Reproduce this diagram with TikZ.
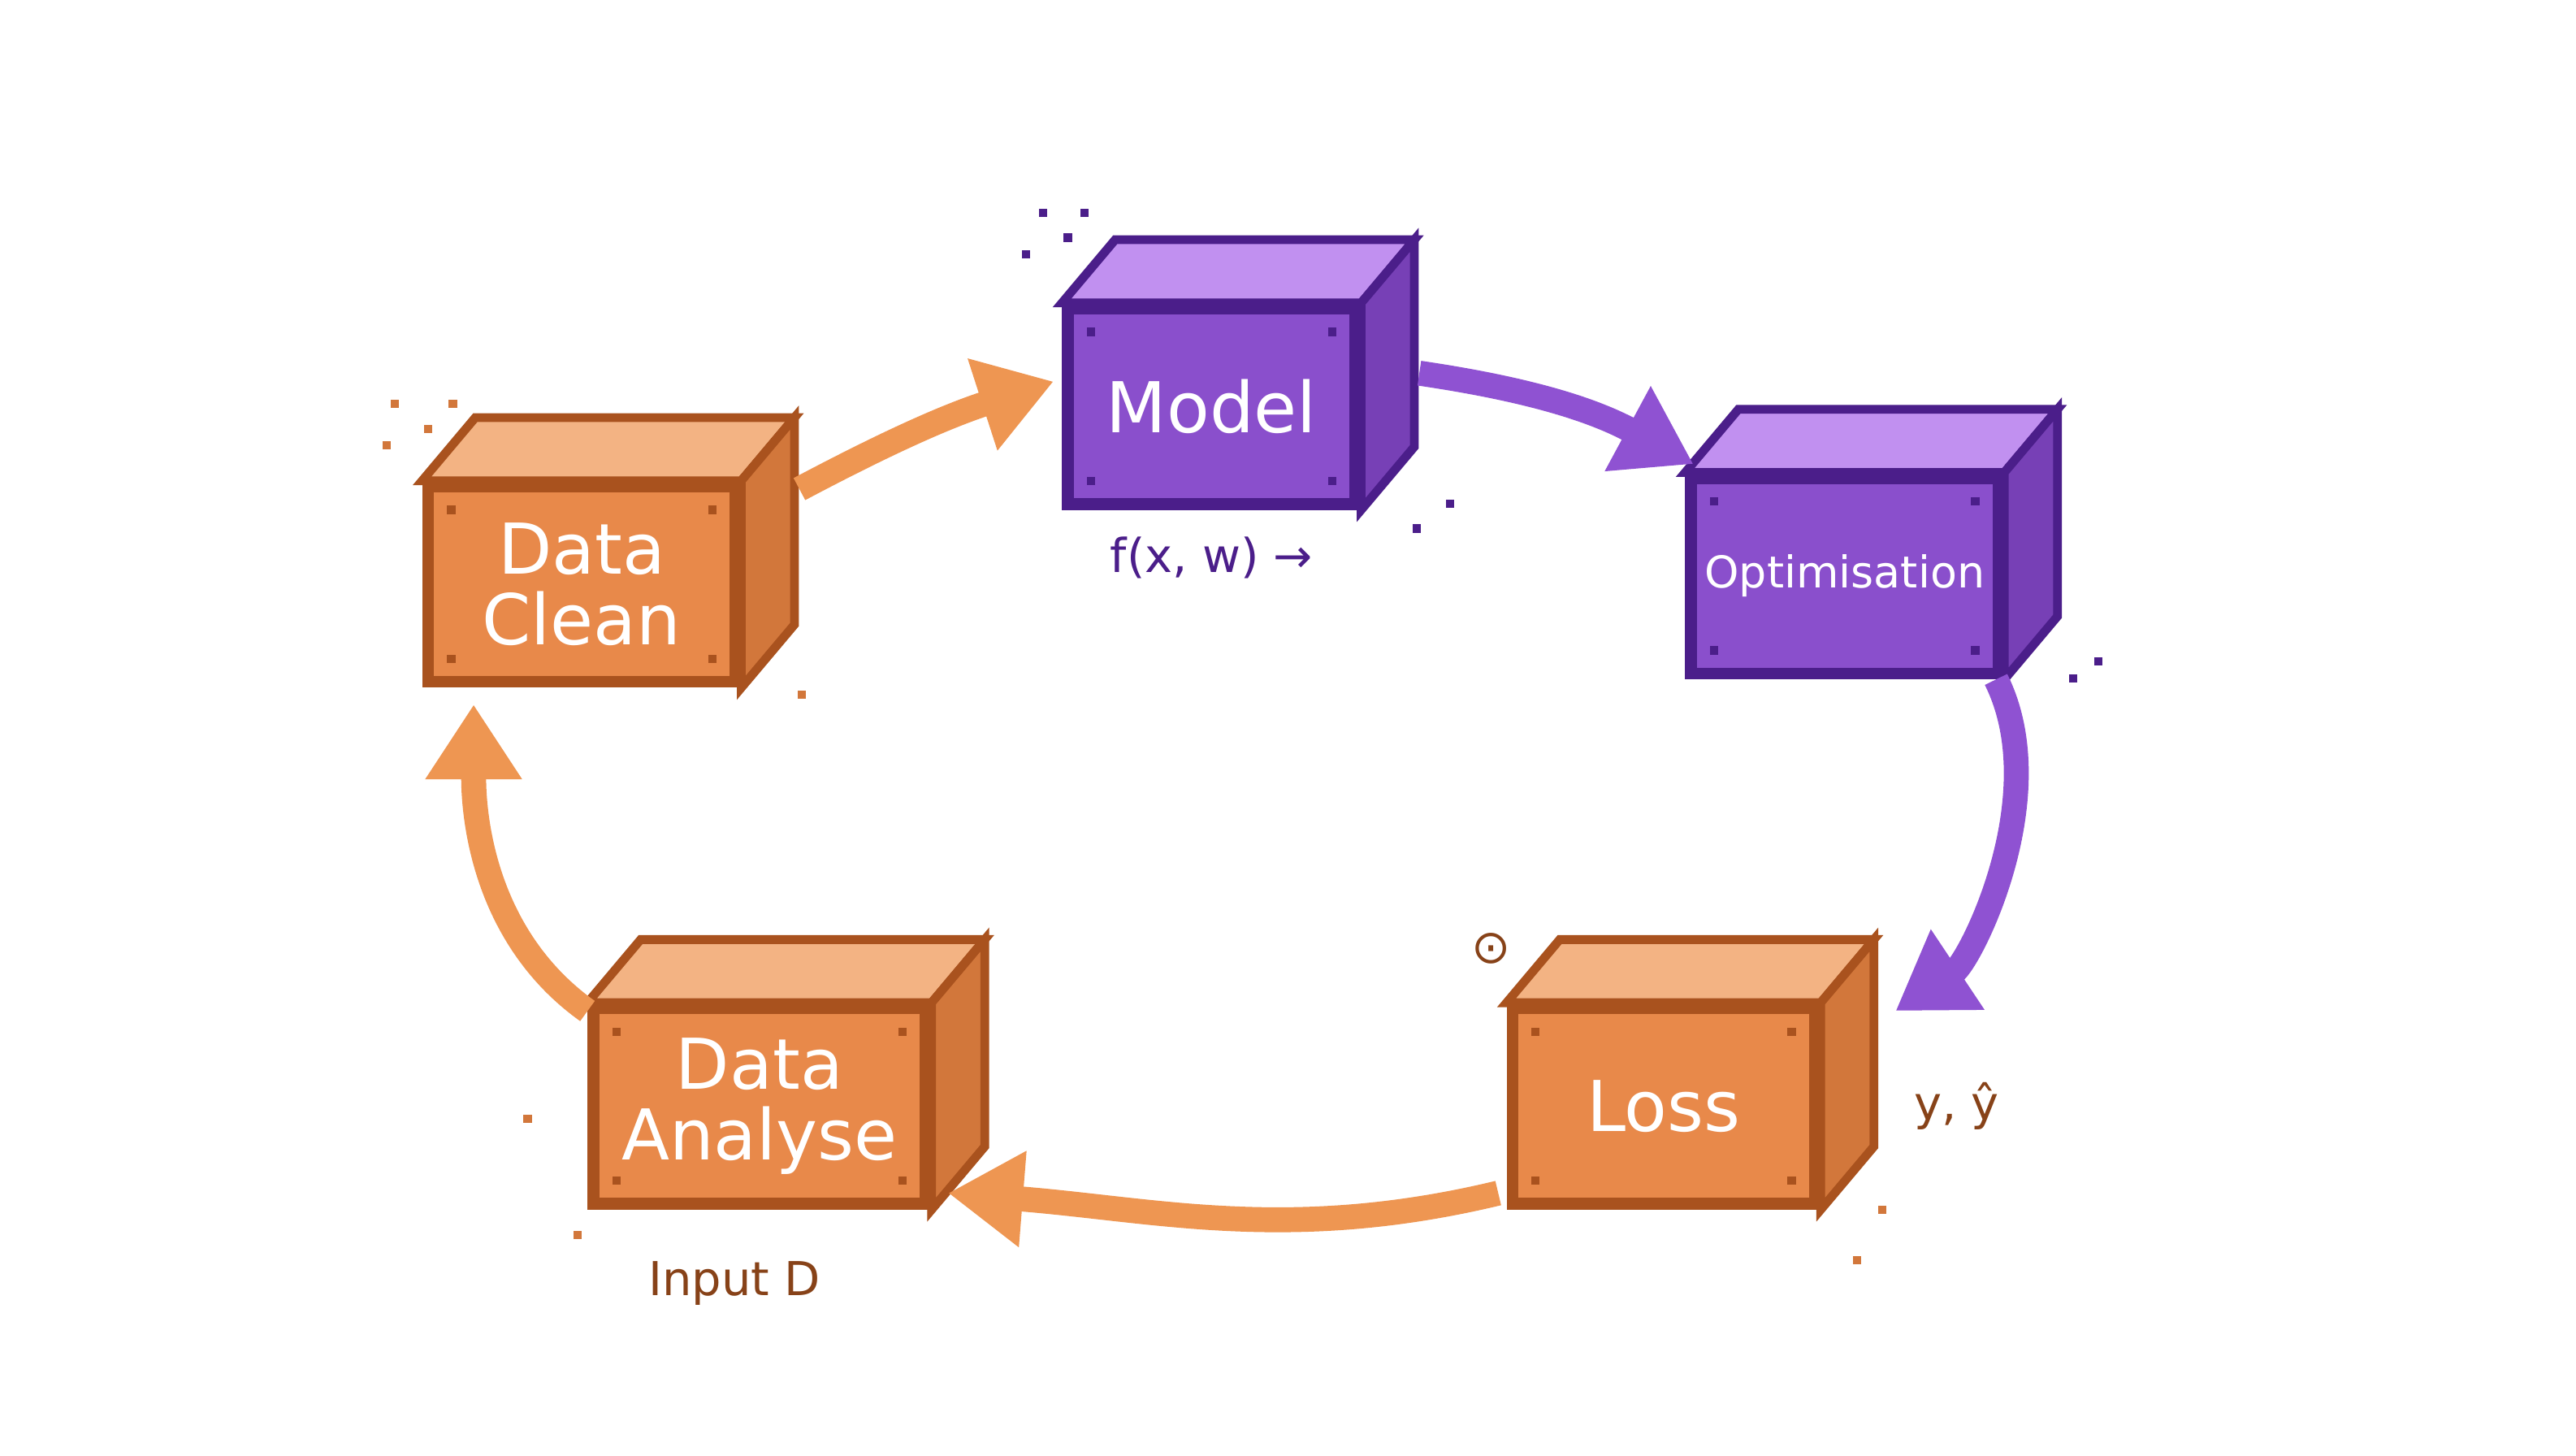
\documentclass[tikz,border=0pt]{standalone}
\usepackage{fontspec}
\setmainfont{DejaVu Sans}
\usetikzlibrary{arrows.meta,positioning,calc}
\definecolor{orfront}{HTML}{E8894A}
\definecolor{ortop}{HTML}{F3B383}
\definecolor{orside}{HTML}{D2773B}
\definecolor{oredge}{HTML}{A9521E}
\definecolor{pufront}{HTML}{8A4FCC}
\definecolor{putop}{HTML}{C190F0}
\definecolor{puside}{HTML}{7740B6}
\definecolor{puedge}{HTML}{4B1E8A}
\definecolor{orarrow}{HTML}{EE9652}
\definecolor{puarrow}{HTML}{8F52D2}

% box front face as node, top and side drawn from its anchors
\newcommand{\pixbox}[2]{%
  \fill[#2top,draw=#2edge,line width=3pt] (#1.north west) -- ++(0.64,0.76) -- ($(#1.north east)+(0.64,0.76)$) -- (#1.north east) -- cycle;
  \fill[#2side,draw=#2edge,line width=3pt] (#1.north east) -- ++(0.64,0.76) -- ($(#1.south east)+(0.64,0.76)$) -- (#1.south east) -- cycle;
  \foreach \c/\dx/\dy in {north west/0.3/-0.4,north east/-0.4/-0.4,south west/0.3/0.3,south east/-0.4/0.3}
    \fill[#2edge] ($(#1.\c)+(\dx,\dy)$) rectangle ++(0.1,0.1);
}

\begin{document}
\begin{tikzpicture}[
  >=Latex,
  box/.style={minimum width=#1,minimum height=2.35cm,line width=4pt,inner sep=0pt,align=center,text=white,font=\fontsize{24}{26}\selectfont},
  orbox/.style={box=#1,fill=orfront,draw=oredge},
  pubox/.style={box=#1,fill=pufront,draw=puedge},
  orflow/.style={-{Triangle[length=0.9cm,width=1.1cm]},line width=0.3cm,orarrow},
  puflow/.style={-{Triangle[length=0.9cm,width=1.1cm]},line width=0.3cm,puarrow},
  lbl/.style={font=\fontsize{16}{18}\selectfont}
]
\fill[white] (0,0) rectangle (31,17.51);

\node[orbox=3.7cm] (clean) at (7.0,10.48) {Data\\[-2pt]Clean};
\node[pubox=3.46cm] (model) at (14.58,12.62) {Model};
\node[pubox=3.7cm,font=\fontsize{15}{17}\selectfont] (opt) at (22.2,10.58) {Optimisation};
\node[orbox=3.64cm] (loss) at (20.02,4.2) {Loss};
\node[orbox=4.0cm] (analyse) at (9.14,4.2) {Data\\[-2pt]Analyse};
\pixbox{clean}{or}
\pixbox{model}{pu}
\pixbox{opt}{pu}
\pixbox{loss}{or}
\pixbox{analyse}{or}

\draw[orflow] ($(clean.north east)+(0.7,-0.1)$) to[bend left=5] ($(model.west)+(-0.1,0.3)$);
\draw[puflow] ($(model.east)+(0.7,0.4)$) to[bend left=10] ($(opt.north west)+(0.1,0.1)$);
\draw[puflow] ($(opt.south east)+(-0.1,0)$) .. controls +(0.7,-1.4) and +(0.9,0.6) .. ($(loss.north east)+(0.9,-0.1)$);
\draw[orflow] ($(loss.south west)+(-0.1,0.2)$) .. controls +(-2.5,-0.6) and +(2.5,-0.2) .. ($(analyse.south east)+(0.2,0.2)$);
\draw[orflow] ($(analyse.north west)+(0,-0.1)$) .. controls +(-1.4,1.0) and +(0,-1.0) .. ($(clean.south)+(-1.3,-0.2)$);

\node[lbl,text=puedge,below=0.2cm of model] (fxw) {f(x, w) →};
\node[lbl,text=oredge!80!black,right=1.0cm of loss] (yy) {y, ŷ};
\node[lbl,text=oredge!80!black,below=0.5cm of analyse,xshift=-0.3cm] (inp) {Input D};
\node[text=oredge!80!black,font=\fontsize{16}{18}\selectfont] (dot) at (17.94,6.1) {⊙};

% stray pixels
\foreach \x/\y/\c in {12.5/14.9/puedge,13.0/14.9/puedge,12.3/14.4/puedge,12.8/14.6/puedge,
  17.0/11.1/puedge,17.4/11.4/puedge,24.9/9.3/puedge,25.2/9.5/puedge,
  4.7/12.6/orside,5.1/12.3/orside,4.6/12.1/orside,5.4/12.6/orside,9.6/9.1/orside,
  6.3/4.0/orside,6.9/2.6/orside,22.6/2.9/orside,22.3/2.3/orside}
  \fill[\c] (\x,\y) rectangle ++(0.1,0.1);
\end{tikzpicture}
\end{document}
